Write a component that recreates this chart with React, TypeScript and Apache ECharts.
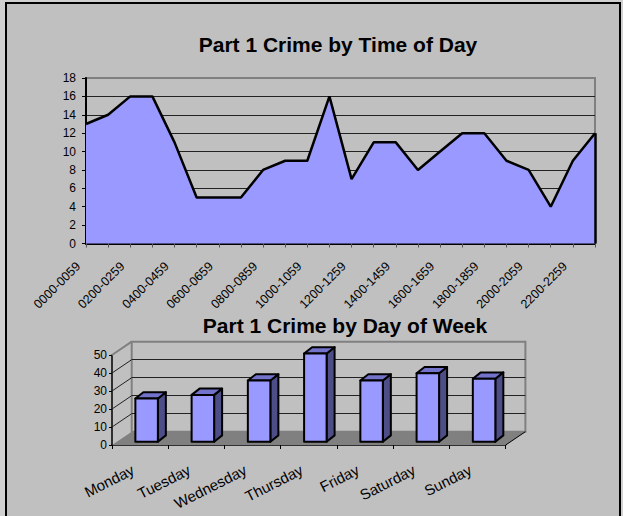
import React, { useEffect, useRef } from "react";
import * as echarts from "echarts";

const hourLabels = [
  "0000-0059", "0100-0159", "0200-0259", "0300-0359", "0400-0459", "0500-0559",
  "0600-0659", "0700-0759", "0800-0859", "0900-0959", "1000-1059", "1100-1159",
  "1200-1259", "1300-1359", "1400-1459", "1500-1559", "1600-1659", "1700-1759",
  "1800-1859", "1900-1959", "2000-2059", "2100-2159", "2200-2259", "2300-2359",
];
const hourCrimes = [13, 14, 16, 16, 11, 5, 5, 5, 8, 9, 9, 16, 7, 11, 11, 8, 10, 12, 12, 9, 8, 4, 9, 12];

const dayLabels = ["Monday", "Tuesday", "Wednesday", "Thursday", "Friday", "Saturday", "Sunday"];
const dayCrimes = [24, 26, 34, 49, 34, 38, 35];
const dayWallTicks = [10, 20, 30, 40];

const FONT = "'Liberation Sans', Arial, sans-serif";

export default function App() {
  const ref = useRef<HTMLDivElement>(null);

  useEffect(() => {
    if (!ref.current) return;
    const chart = echarts.init(ref.current, null, { renderer: "svg" });

    // 3D geometry of the day-of-week chart
    const FRONT = { left: 112, top: 355, width: 393.7, height: 90 };
    const DX = 19.7;
    const DY = -13.3;
    const BACK = { left: FRONT.left + DX, top: FRONT.top + DY, width: FRONT.width, height: FRONT.height };
    const BAR_OFF_X = 6.5;
    const BAR_OFF_Y = -3.3;
    const BAR_DX = 8;
    const BAR_DY = -6.3;

    const lastIdx = hourLabels.length - 1;

    const option: any = {
      animation: false,
      textStyle: { fontFamily: FONT },
      title: [
        {
          text: "Part 1 Crime by Time of Day",
          left: 333,
          top: 29,
          textAlign: "center",
          textStyle: { fontFamily: FONT, fontSize: 21, fontWeight: "bold", color: "#000" },
        },
        {
          text: "Part 1 Crime by Day of Week",
          left: 340,
          top: 310,
          textAlign: "center",
          textStyle: { fontFamily: FONT, fontSize: 21, fontWeight: "bold", color: "#000" },
        },
      ],
      grid: [
        {
          left: 86, top: 78, width: 509, height: 165.5,
          show: true, backgroundColor: "transparent", borderColor: "#808080", borderWidth: 2,
        },
        { ...FRONT, show: false },
        { ...BACK, show: true, backgroundColor: "#c0c0c0", borderColor: "#808080", borderWidth: 2 },
      ],
      xAxis: [
        {
          gridIndex: 0,
          type: "category",
          data: hourLabels,
          boundaryGap: false,
          axisLine: { lineStyle: { color: "#000", width: 2 } },
          axisTick: { show: true, interval: 0, length: 4, lineStyle: { color: "#555" } },
          axisLabel: {
            interval: 1, rotate: 45, fontSize: 12.5, color: "#000", margin: 13,
            padding: [0, 11, 0, 0], fontFamily: FONT,
          },
          splitLine: { show: false },
        },
        {
          gridIndex: 1,
          type: "category",
          data: dayLabels,
          boundaryGap: true,
          axisLine: { lineStyle: { color: "#000", width: 1.5 } },
          axisTick: { show: true, length: 4, lineStyle: { color: "#000" } },
          axisLabel: {
            interval: 0, rotate: 27, fontSize: 15, color: "#000", margin: 20,
            padding: [0, 8, 0, 0], fontFamily: FONT,
          },
          splitLine: { show: false },
        },
        {
          gridIndex: 2,
          type: "category",
          data: dayLabels,
          show: false,
        },
      ],
      yAxis: [
        {
          gridIndex: 0,
          type: "value",
          min: 0, max: 18, interval: 2,
          axisLine: { show: true, lineStyle: { color: "#000", width: 2 } },
          axisTick: { show: true, length: 4, lineStyle: { color: "#000" } },
          axisLabel: { fontSize: 12, color: "#000", margin: 10, fontFamily: FONT },
          splitLine: { show: true, showMaxLine: false, lineStyle: { color: "#222", width: 1 } },
        },
        {
          gridIndex: 1,
          type: "value",
          min: 0, max: 50, interval: 10,
          axisLine: { show: true, lineStyle: { color: "#000", width: 1.5 } },
          axisTick: { show: true, length: 3, lineStyle: { color: "#000" } },
          axisLabel: { fontSize: 12, color: "#000", margin: 5, fontFamily: FONT },
          splitLine: { show: false },
        },
        {
          gridIndex: 2,
          type: "value",
          min: 0, max: 50, interval: 10,
          axisLine: { show: false },
          axisTick: { show: false },
          axisLabel: { show: false },
          splitLine: { show: true, showMaxLine: false, showMinLine: false, lineStyle: { color: "#222", width: 1 } },
        },
      ],
      series: [
        {
          type: "line",
          xAxisIndex: 0,
          yAxisIndex: 0,
          data: hourCrimes,
          symbol: "none",
          showSymbol: false,
          lineStyle: { color: "#000", width: 2.5 },
          areaStyle: { color: "#9999ff", opacity: 1 },
          markLine: {
            silent: true,
            symbol: ["none", "none"],
            label: { show: false },
            lineStyle: { color: "#000", width: 2.5, type: "solid" },
            data: [[{ coord: [hourLabels[lastIdx], 0] }, { coord: [hourLabels[lastIdx], hourCrimes[lastIdx]] }]],
          },
        },
        {
          // floor and side wall of the 3D column chart
          type: "custom",
          xAxisIndex: 1,
          yAxisIndex: 1,
          silent: true,
          z: 1,
          data: [0],
          renderItem: (params: any, api: any) => {
            const band = api.size([1, 0])[0];
            const p0 = api.coord([0, 0]);
            const pN = api.coord([dayLabels.length - 1, 0]);
            const left = p0[0] - band / 2;
            const right = pN[0] + band / 2;
            const y0 = p0[1];
            const yTop = api.coord([0, 50])[1];
            const children: any[] = [
              {
                type: "polygon",
                shape: { points: [[left, y0], [right, y0], [right + DX, y0 + DY], [left + DX, y0 + DY]] },
                style: { fill: "#808080", stroke: "none" },
              },
              {
                type: "line",
                shape: { x1: right, y1: y0, x2: right + DX, y2: y0 + DY },
                style: { stroke: "#000", lineWidth: 1 },
              },
            ];
            dayWallTicks.forEach((t) => {
              const y = api.coord([0, t])[1];
              children.push({
                type: "line",
                shape: { x1: left, y1: y, x2: left + DX, y2: y + DY },
                style: { stroke: "#222", lineWidth: 1 },
              });
            });
            children.push({
              type: "line",
              shape: { x1: left, y1: yTop, x2: left + DX, y2: yTop + DY },
              style: { stroke: "#808080", lineWidth: 2 },
            });
            return { type: "group", children };
          },
        },
        {
          type: "custom",
          xAxisIndex: 1,
          yAxisIndex: 1,
          z: 3,
          data: dayCrimes.map((v, i) => [i, v]),
          encode: { x: 0, y: 1 },
          renderItem: (params: any, api: any) => {
            const i = api.value(0);
            const v = api.value(1);
            const band = api.size([1, 0])[0];
            const base = api.coord([i, 0]);
            const top = api.coord([i, v]);
            const w = band * 0.4;
            const cx = base[0] + BAR_OFF_X;
            const yb = base[1] + BAR_OFF_Y;
            const yt = top[1] + BAR_OFF_Y;
            const xl = cx - w / 2;
            const xr = cx + w / 2;
            const stroke = { stroke: "#000", lineWidth: 2, lineJoin: "round" };
            return {
              type: "group",
              children: [
                {
                  type: "polygon",
                  shape: { points: [[xr, yt], [xr + BAR_DX, yt + BAR_DY], [xr + BAR_DX, yb + BAR_DY], [xr, yb]] },
                  style: { fill: "#4d4d88", ...stroke },
                },
                {
                  type: "polygon",
                  shape: { points: [[xl, yt], [xr, yt], [xr + BAR_DX, yt + BAR_DY], [xl + BAR_DX, yt + BAR_DY]] },
                  style: { fill: "#7373cc", ...stroke },
                },
                {
                  type: "rect",
                  shape: { x: xl, y: yt, width: w, height: yb - yt },
                  style: { fill: "#9999ff", ...stroke },
                },
              ],
            };
          },
        },
      ],
    };

    chart.setOption(option);
    return () => chart.dispose();
  }, []);

  return (
    <div style={{ position: "fixed", left: 0, top: 0, width: 623, height: 516, background: "#d0d0d0", overflow: "hidden" }}>
      <div
        style={{
          position: "absolute",
          left: 5,
          top: 2,
          width: 612,
          height: 530,
          border: "2px solid #000",
          background: "#c0c0c0",
        }}
      />
      <div ref={ref} style={{ position: "absolute", left: 0, top: 0, width: 623, height: 516 }} />
    </div>
  );
}
